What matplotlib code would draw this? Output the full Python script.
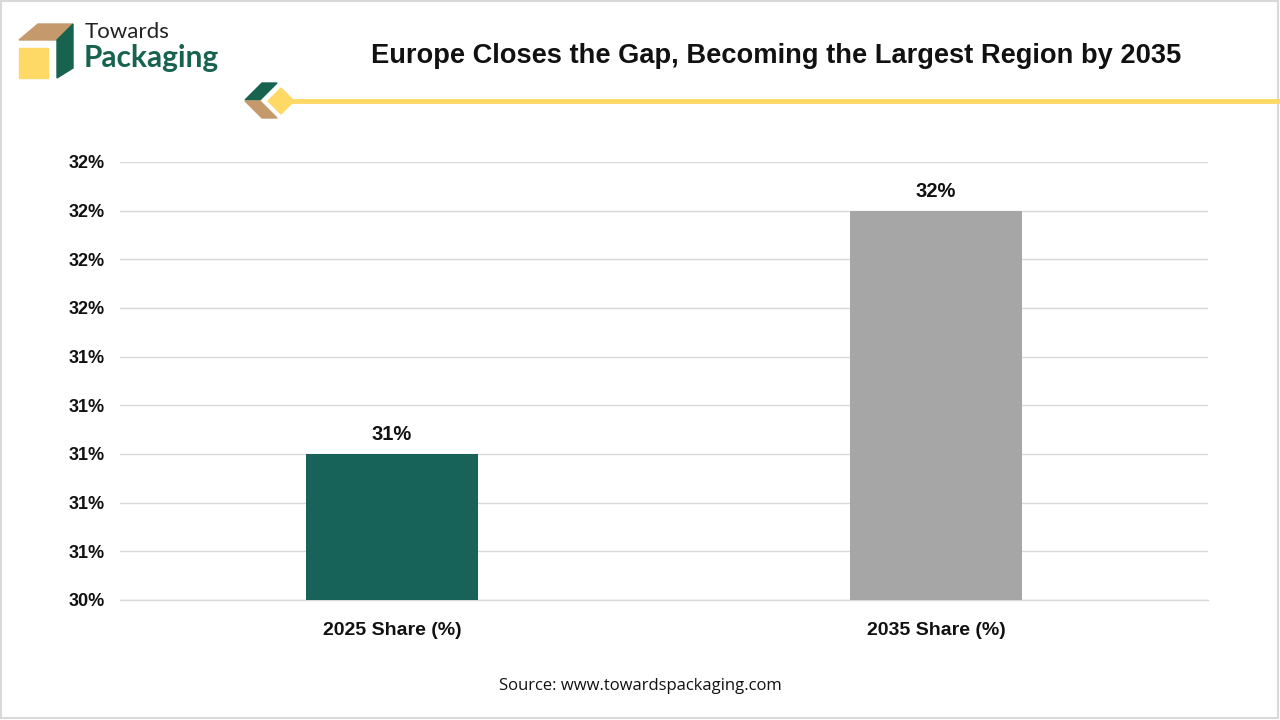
import matplotlib.pyplot as plt
from matplotlib.patches import Polygon, Rectangle
import numpy as np

# data
categories = ['2025 Share (%)', '2035 Share (%)']
shares = [31.0, 32.0]
bar_colors = ['#17635a', '#a6a6a6']
y_ticks = [30.4, 30.6, 30.8, 31.0, 31.2, 31.4, 31.6, 31.8, 32.0, 32.2]

plt.rcParams['font.family'] = ['Liberation Sans', 'DejaVu Sans']

fig = plt.figure(figsize=(12.8, 7.2), dpi=100)

# background layer in pixel coordinates (logo, title line, border)
bg = fig.add_axes([0, 0, 1, 1])
bg.set_xlim(0, 1280)
bg.set_ylim(720, 0)
bg.axis('off')
bg.add_patch(Rectangle((1, 1), 1277, 717, fill=False, edgecolor='#d9d9d9', lw=1.5))

# logo cube
bg.add_patch(Polygon([(19, 40), (38, 24), (73, 24), (57, 40)], color='#c49a6c'))
bg.add_patch(Polygon([(57, 40), (73, 24), (73, 68), (57, 78)], color='#17634f'))
bg.add_patch(Rectangle((19, 48), 29, 30, color='#ffd966'))
bg.text(85, 32, 'Towards', fontsize=16, family='Lato', color='#222222', va='center')
bg.text(84, 58, 'Packaging', fontsize=21.5, family='Lato', weight='bold',
        color='#17634f', va='center')

# title decoration
bg.plot([288, 1280], [101, 101], color='#ffd966', lw=3.5, solid_capstyle='butt')
bg.add_patch(Polygon([(245, 100), (262, 83), (277, 83), (260, 100)], color='#17634f'))
bg.add_patch(Polygon([(245, 101), (260, 101), (277, 118), (262, 118)], color='#c49a6c'))
bg.add_patch(Polygon([(281, 88), (294, 101), (281, 114), (268, 101)], color='#ffd966'))

fig.text(0.606, 1 - 56 / 720, 'Europe Closes the Gap, Becoming the Largest Region by 2035',
         ha='center', va='center', fontsize=19.6, weight='bold', color='#111111')

# chart
ax = fig.add_axes([120 / 1280, 1 - 600 / 720, 1088 / 1280, 438 / 720])
x = np.arange(len(categories))
bars = ax.bar(x, shares, width=0.315, color=bar_colors, zorder=3)
ax.set_xlim(-0.5, 1.5)
ax.set_ylim(y_ticks[0], y_ticks[-1])
ax.set_yticks(y_ticks)
ax.set_yticklabels([f'{v:.0f}%' for v in y_ticks])
ax.set_xticks(x)
ax.set_xticklabels(categories)
ax.grid(axis='y', color='#d9d9d9', lw=1, zorder=0)
ax.axhline(y_ticks[0], color='#d9d9d9', lw=1, zorder=1, clip_on=False)
for s in ax.spines.values():
    s.set_visible(False)
ax.tick_params(axis='both', length=0, colors='#111111')
ax.tick_params(axis='y', pad=11, labelsize=13)
ax.tick_params(axis='x', pad=16, labelsize=14)
for lab in ax.get_xticklabels() + ax.get_yticklabels():
    lab.set_fontweight('bold')

for b, v in zip(bars, shares):
    ax.text(b.get_x() + b.get_width() / 2, v + 0.04, f'{v:.0f}%',
            ha='center', va='bottom', fontsize=14.5, weight='bold', color='#111111')

fig.text(0.5, 1 - 686 / 720, 'Source: www.towardspackaging.com', ha='center',
         va='center', fontsize=12, family='Open Sans', color='#111111')

fig.savefig('out.png', dpi=100)
